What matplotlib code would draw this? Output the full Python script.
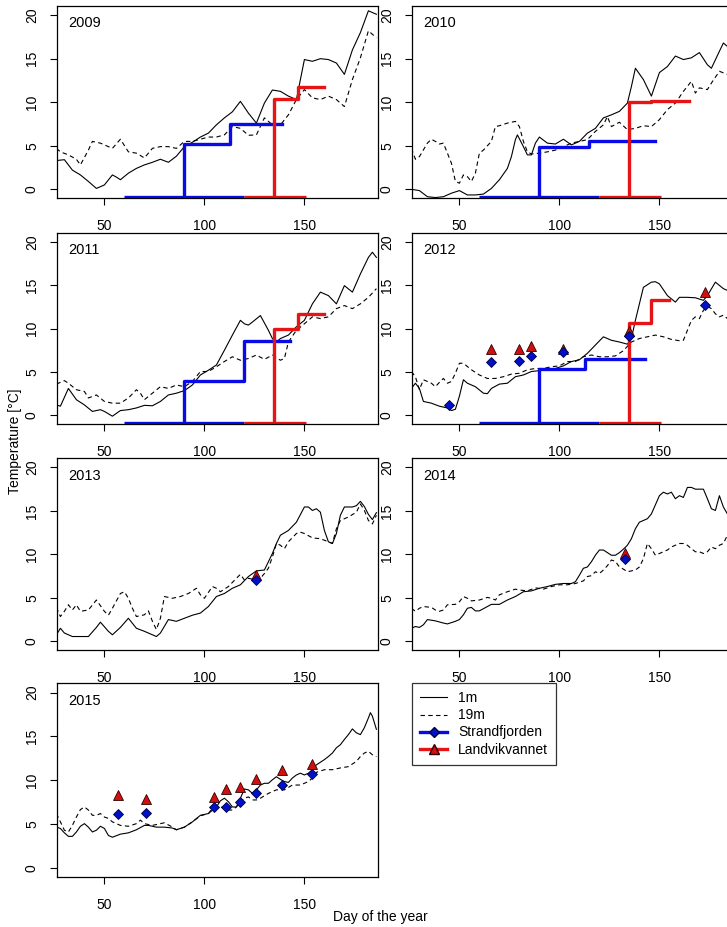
import matplotlib
matplotlib.use("Agg")
import matplotlib.pyplot as plt
from matplotlib.lines import Line2D

plt.rcParams["font.family"] = ["Liberation Sans", "DejaVu Sans"]

# ---- temperature series (day of year, deg C) ----
D09_1 = [26,30,34,38,42,46,50,54,56,58,62,66,70,74,78,82,86,90,94,98,102,106,110,114,118,122,126,130,134,138,142,146,150,154,158,162,166,170,174,178,182,186]
T09_1 = [3.3,3.4,2.2,1.65,0.9,0.1,0.5,1.65,1.4,1.1,1.85,2.4,2.8,3.1,3.45,3.1,3.8,4.9,5.4,6.0,6.45,7.4,8.2,8.9,10.1,8.75,7.6,9.9,11.4,11.25,10.7,10.3,14.9,14.7,15.0,14.9,14.5,13.2,16.0,18.0,20.5,20.1]
D09_19 = [26,28,32,36,38,42,44,48,52,54,58,62,66,70,74,78,82,86,90,94,98,102,106,110,114,118,122,126,130,134,138,142,146,150,154,158,162,166,170,174,178,182,186]
T09_19 = [4.7,4.3,3.95,3.45,2.8,4.5,5.5,5.3,4.9,4.7,5.75,4.3,4.15,3.6,4.7,4.9,4.9,4.7,5.5,5.5,5.75,6.0,6.0,6.25,7.2,7.0,6.2,6.25,8.2,7.4,7.4,8.55,10.3,11.45,10.5,10.3,10.7,10.3,9.5,12.6,15.1,18.2,17.4]

D10_1 = [26,30,34,38,42,46,50,54,58,62,66,70,74,76,78,79,82,84,86,88,90,94,98,102,106,110,114,118,122,126,130,134,136,138,142,146,150,154,158,162,166,170,174,176,180,182,184]
T10_1 = [0.0,-0.15,-0.85,-0.95,-0.85,-0.45,-0.15,-0.65,-0.65,-0.55,0.1,1.1,2.4,3.75,5.7,6.25,4.9,3.95,3.95,5.3,6.0,5.3,5.2,5.75,5.1,5.5,6.45,7.0,8.2,8.55,8.95,9.9,11.8,13.9,12.6,10.7,13.4,14.1,15.3,14.9,15.1,15.7,14.3,13.9,15.85,16.8,16.4]
D10_19 = [26,28,30,34,36,38,40,42,46,48,50,52,54,56,58,60,62,66,68,70,74,78,80,82,84,86,90,94,98,102,106,110,114,118,122,124,126,130,134,138,142,146,150,154,158,162,166,168,170,174,176,180,184]
T10_19 = [4.7,3.45,3.75,5.3,5.75,5.5,5.2,5.3,3.0,0.9,0.7,1.65,1.45,0.9,1.85,4.15,4.5,5.5,7.2,7.3,7.6,7.8,7.2,5.5,4.3,4.05,4.15,4.3,4.5,4.9,5.3,5.5,5.7,6.65,7.4,8.35,7.2,7.7,6.85,7.0,7.3,7.2,8.0,9.15,9.9,11.25,12.4,11.05,11.65,11.45,12.2,13.55,13.2]

D11_1 = [26,28,32,36,40,44,48,50,54,58,62,66,70,74,78,82,86,90,94,98,102,106,110,114,118,120,122,124,128,132,134,136,138,142,146,150,154,158,162,166,170,174,178,182,184,186]
T11_1 = [1.2,1.05,3.1,1.8,1.2,0.45,0.65,0.45,-0.1,0.55,0.65,0.85,1.15,1.1,1.6,2.35,2.55,2.85,3.5,4.65,5.2,5.8,7.5,9.25,10.95,10.55,10.4,10.75,11.5,9.8,8.85,8.45,8.85,9.25,10.2,10.95,12.85,14.2,13.8,12.85,14.95,14.2,16.3,18.2,18.8,18.2]
D11_19 = [26,30,32,36,40,42,46,50,54,58,62,66,68,70,74,78,82,86,90,94,98,102,106,110,114,118,122,126,130,134,138,140,142,146,150,154,158,162,166,170,174,178,182,186]
T11_19 = [3.6,4.0,3.7,2.95,2.75,2.0,2.35,1.6,1.4,1.4,2.0,2.95,2.55,1.8,2.55,3.3,3.1,3.5,3.3,3.9,5.05,5.05,5.6,6.2,6.75,6.35,6.55,6.95,6.45,6.95,6.35,6.55,8.45,9.8,10.55,11.35,11.15,11.35,12.3,12.65,12.3,12.85,13.6,14.6]

D12_1 = [26,28,30,32,36,40,44,46,48,50,52,54,58,62,64,66,70,74,78,82,86,90,94,98,102,106,110,114,118,122,126,130,134,136,138,140,142,146,148,150,154,158,160,164,168,172,174,178,182,184]
T12_1 = [3.1,3.7,3.1,1.6,1.4,1.05,0.85,0.55,0.7,2.2,4.1,3.7,3.3,2.55,2.5,3.1,3.6,3.7,4.45,4.65,5.05,5.15,5.25,5.4,5.7,6.2,6.4,7.15,8.1,9.05,8.65,8.45,8.2,8.85,10.95,12.85,14.75,15.35,15.4,15.15,13.8,13.05,13.6,13.6,13.55,13.25,13.8,15.35,14.6,14.4]
D12_19 = [26,28,30,32,36,38,40,42,44,46,48,50,52,56,60,64,68,72,76,80,84,88,92,96,100,104,108,112,116,120,124,128,132,136,140,144,148,152,156,160,162,164,166,168,170,172,174,176,178,180,182,184]
T12_19 = [5.05,4.45,2.95,4.1,3.7,3.3,3.8,4.25,3.7,3.9,4.85,6.0,6.0,5.25,4.65,4.25,4.25,4.45,4.75,4.85,5.25,5.4,5.4,5.6,5.7,6.2,6.2,6.75,6.95,6.75,6.75,6.85,7.45,8.45,8.85,9.05,9.25,9.05,8.75,8.6,8.65,9.8,10.95,11.35,11.15,12.1,12.55,12.3,11.7,11.35,11.55,11.15]

D13_1 = [26,28,30,34,38,42,46,48,52,54,58,62,66,70,74,76,78,82,86,90,94,98,102,106,110,114,118,122,126,130,134,136,138,142,146,150,152,154,156,158,160,162,164,166,168,170,174,176,178,180,182,184,186]
T13_1 = [0.75,1.5,0.95,0.55,0.55,0.55,1.6,2.2,1.15,0.75,1.6,2.65,1.5,1.15,0.75,0.55,0.95,2.5,2.3,2.65,3.0,3.25,4.0,5.15,5.5,6.1,6.5,7.45,8.1,8.2,10.1,11.25,12.2,12.75,13.7,15.45,15.45,15.05,15.25,14.85,12.75,11.45,11.25,12.4,14.5,15.45,15.45,15.6,16.1,15.5,14.6,14.0,14.8]
D13_19 = [26,28,30,32,34,36,38,42,46,50,52,54,58,60,62,64,66,70,72,74,76,78,80,84,88,92,96,98,100,104,106,108,112,116,118,120,122,126,128,130,132,134,136,138,140,142,146,148,150,154,158,162,164,166,168,172,176,178,180,182,184,186]
T13_19 = [3.9,2.85,3.45,4.2,3.6,4.2,3.45,3.6,4.75,3.45,3.0,3.8,5.5,5.7,4.95,3.8,2.85,3.05,3.5,2.3,1.35,2.65,5.15,4.95,5.15,5.5,6.1,5.35,4.95,6.3,6.1,5.7,6.3,7.25,7.7,7.05,7.25,7.05,7.25,7.8,8.4,9.7,11.25,11.05,10.65,11.45,12.4,12.55,12.4,11.9,11.8,11.45,11.25,12.95,13.9,14.3,14.85,15.8,15.05,13.9,13.5,14.5]

D14_1 = [26,28,30,32,34,38,42,44,48,50,52,54,56,58,60,64,66,70,74,78,82,86,90,94,98,102,106,108,110,112,114,116,118,120,122,124,126,128,130,132,134,136,138,140,144,146,148,150,152,154,156,158,160,162,164,166,168,172,174,176,178,180,182,184]
T14_1 = [1.5,1.7,1.6,1.9,2.5,2.35,2.1,2.0,2.3,2.5,3.05,3.8,3.9,3.5,3.5,4.0,4.25,4.25,4.75,5.15,5.7,5.8,6.1,6.3,6.55,6.65,6.65,6.85,7.6,8.4,8.55,9.15,9.9,10.5,10.5,10.2,9.9,9.9,10.2,10.6,11.05,11.8,12.95,13.7,14.1,14.65,15.7,16.75,17.15,16.95,17.15,16.4,16.75,16.55,17.7,17.7,17.5,17.5,16.4,15.25,15.05,16.75,15.45,14.65]
D14_19 = [26,28,30,32,36,38,40,42,44,48,50,52,54,56,60,64,66,68,70,74,78,80,84,88,92,96,100,104,108,112,114,116,118,120,122,124,126,128,130,132,134,136,138,140,142,144,146,148,150,154,156,158,160,162,164,166,168,170,172,174,176,178,180,182,184]
T14_19 = [3.8,3.45,3.8,4.0,3.9,3.6,3.45,3.6,4.2,4.25,4.55,5.15,4.95,4.65,4.75,5.05,4.95,4.75,5.35,5.7,6.0,5.9,5.8,6.15,6.0,6.3,6.5,6.5,6.65,6.95,7.45,7.55,8.0,7.8,8.2,8.7,9.35,9.2,8.55,8.3,8.0,8.1,8.2,8.55,9.5,11.25,10.65,9.9,10.1,10.5,10.85,11.05,11.25,11.25,11.05,10.65,10.3,10.3,10.1,10.3,10.85,10.65,11.05,11.25,12.2]

D15_1 = [26,28,30,32,34,36,38,40,42,44,46,48,50,52,54,58,62,66,70,72,76,80,84,86,90,94,98,102,106,108,110,112,114,116,118,120,122,124,126,128,130,132,134,136,138,140,142,144,146,148,150,152,154,156,158,160,162,164,166,168,170,172,174,176,178,180,182,183,184,186]
T15_1 = [4.65,4.5,4.0,3.6,3.6,4.1,4.75,5.05,4.65,4.1,4.3,4.75,4.5,3.7,3.5,3.85,4.0,4.35,4.85,4.85,4.65,4.65,4.55,4.35,4.65,5.25,6.0,6.2,6.95,7.65,7.95,7.55,6.95,6.95,7.95,9.0,8.9,8.5,8.9,9.45,9.65,9.65,10.05,10.4,10.1,9.85,9.75,10.25,10.6,10.8,10.6,10.8,11.2,11.75,12.05,12.35,12.7,13.1,13.7,14.05,14.65,15.2,15.85,15.4,15.2,16.0,17.1,17.7,17.3,15.8]
D15_19 = [26,28,30,32,34,36,38,40,42,44,46,48,50,52,54,58,62,66,68,70,74,78,80,84,86,90,94,98,102,104,106,108,110,112,114,116,118,120,122,124,126,128,132,136,140,144,148,150,152,154,156,160,164,168,172,176,178,180,182,184,186]
T15_19 = [6.2,5.25,4.3,4.1,4.85,5.8,6.65,6.95,6.6,6.0,6.0,6.2,5.8,5.65,5.25,4.85,4.75,5.05,5.45,5.05,4.85,5.05,5.15,4.65,4.35,4.65,5.25,5.95,6.2,6.8,6.95,6.9,6.95,6.6,6.6,6.95,7.55,7.95,8.1,7.75,7.75,7.95,8.5,8.9,8.9,9.45,9.45,9.65,9.85,10.25,10.9,11.2,11.2,11.4,11.55,12.15,12.7,13.1,13.3,12.9,12.7]

# ---- step curves (Strandfjorden blue / Landvikvannet red) ----
BASE = -0.85
BLUE_BASE = [60, 120]
RED_BASE = [120, 151]
SX09_B, SY09_B = [90, 90, 113, 139], [BASE, 5.2, 7.5, 7.5]
SX09_R, SY09_R = [135, 135, 147, 160], [BASE, 10.4, 11.7, 11.7]
SX10_B, SY10_B = [90, 90, 115, 148], [BASE, 4.85, 5.55, 5.55]
SX10_R, SY10_R = [135, 135, 146, 165], [BASE, 10.0, 10.1, 10.1]
SX11_B, SY11_B = [90, 90, 120, 143], [BASE, 3.9, 8.55, 8.55]
SX11_R, SY11_R = [135, 135, 147, 160], [BASE, 10.0, 11.7, 11.7]
SX12_B, SY12_B = [90, 90, 113, 143], [BASE, 5.3, 6.5, 6.5]
SX12_R, SY12_R = [135, 135, 146, 155], [BASE, 10.6, 13.25, 13.25]

# ---- point samples ----
P12_BX, P12_BY = [45, 66, 80, 86, 102, 135, 173], [1.2, 6.1, 6.3, 6.8, 7.3, 9.2, 12.7]
P12_RX, P12_RY = [66, 80, 86, 102, 135, 173], [7.6, 7.6, 8.0, 7.7, 9.7, 14.2]
P13_BX, P13_BY = [126], [7.1]
P13_RX, P13_RY = [126], [7.6]
P14_BX, P14_BY = [133], [9.5]
P14_RX, P14_RY = [133], [10.1]
P15_BX = [57, 71, 105, 111, 118, 126, 139, 154]
P15_BY = [6.15, 6.25, 6.9, 6.95, 7.5, 8.5, 9.4, 10.75]
P15_RX = [57, 71, 105, 111, 118, 126, 139, 154]
P15_RY = [8.3, 7.9, 8.1, 9.0, 9.2, 10.1, 11.2, 11.9]

BLUE = "#0a0ae6"
RED = "#e61414"
DASH = (0, (4, 3))

W, H = 727, 927
fig = plt.figure(figsize=(W / 100, H / 100), dpi=100)

COLS = [57, 412]
ROWS = [(6, 198), (232.7, 424), (458.3, 650), (683.3, 876.7)]
PW = 321


def make_ax(col, row):
    top, bot = ROWS[row]
    ax = fig.add_axes([COLS[col] / W, 1 - bot / H, PW / W, (bot - top) / H])
    ax.set_xlim(26.3, 186.8)
    ax.set_ylim(-1.0, 21.05)
    ax.set_xticks([50, 100, 150])
    ax.set_yticks([0, 5, 10, 15, 20])
    ax.tick_params(direction="out", length=5, width=0.8, labelsize=10)
    ax.tick_params(axis="x", pad=10)
    ax.tick_params(axis="y", pad=8)
    for lab in ax.get_yticklabels():
        lab.set_rotation(90)
        lab.set_va("center")
    for s in ax.spines.values():
        s.set_linewidth(0.9)
    return ax


def panel(ax, year, d1, t1, d19, t19, steps=None, pts=None):
    ax.plot(d1, t1, color="black", lw=0.8)
    ax.plot(d19, t19, color="black", lw=0.8, linestyle=DASH)
    if steps is not None:
        bx, by, rx, ry = steps
        ax.plot(BLUE_BASE, [BASE, BASE], color=BLUE, lw=2.4, solid_capstyle="butt")
        ax.plot(RED_BASE, [BASE, BASE], color=RED, lw=2.4, solid_capstyle="butt")
        ax.plot(bx, by, color=BLUE, lw=2.4, drawstyle="steps-post")
        ax.plot(rx, ry, color=RED, lw=2.4, drawstyle="steps-post")
    if pts is not None:
        bx, by, rx, ry = pts
        ax.plot(rx, ry, linestyle="none", marker="^", ms=7, mfc="#d01010",
                mec="#300000", mew=0.6)
        ax.plot(bx, by, linestyle="none", marker="D", ms=5, mfc="#0010c8",
                mec="#000040", mew=0.6)
    ax.text(0.034, 0.91, year, transform=ax.transAxes, fontsize=10.5, va="center")


panel(make_ax(0, 0), "2009", D09_1, T09_1, D09_19, T09_19,
      steps=(SX09_B, SY09_B, SX09_R, SY09_R))
panel(make_ax(1, 0), "2010", D10_1, T10_1, D10_19, T10_19,
      steps=(SX10_B, SY10_B, SX10_R, SY10_R))
panel(make_ax(0, 1), "2011", D11_1, T11_1, D11_19, T11_19,
      steps=(SX11_B, SY11_B, SX11_R, SY11_R))
panel(make_ax(1, 1), "2012", D12_1, T12_1, D12_19, T12_19,
      steps=(SX12_B, SY12_B, SX12_R, SY12_R), pts=(P12_BX, P12_BY, P12_RX, P12_RY))
panel(make_ax(0, 2), "2013", D13_1, T13_1, D13_19, T13_19,
      pts=(P13_BX, P13_BY, P13_RX, P13_RY))
panel(make_ax(1, 2), "2014", D14_1, T14_1, D14_19, T14_19,
      pts=(P14_BX, P14_BY, P14_RX, P14_RY))
panel(make_ax(0, 3), "2015", D15_1, T15_1, D15_19, T15_19,
      pts=(P15_BX, P15_BY, P15_RX, P15_RY))

handles = [
    Line2D([], [], color="black", lw=0.8),
    Line2D([], [], color="black", lw=0.8, linestyle=DASH),
    Line2D([], [], color=BLUE, lw=2.4, marker="D", ms=5, mfc="#0010c8", mec="#000040"),
    Line2D([], [], color=RED, lw=2.4, marker="^", ms=7, mfc="#d01010", mec="#300000"),
]
leg = fig.legend(handles, ["1m", "19m", "Strandfjorden", "Landvikvannet"],
                 loc="upper left", bbox_to_anchor=(412 / W, 1 - 683 / H),
                 borderaxespad=0, fontsize=10, frameon=True, fancybox=False,
                 edgecolor="black", handlelength=1.9, handletextpad=0.8,
                 labelspacing=0.22, borderpad=0.6)
leg.get_frame().set_linewidth(0.9)

fig.text(15 / W, 1 - 441 / H, "Temperature [°C]", rotation=90, fontsize=10,
         ha="center", va="center")
fig.text(380 / W, 1 - 917 / H, "Day of the year", fontsize=10,
         ha="center", va="center")

fig.savefig("out.png", dpi=100, facecolor="white")
